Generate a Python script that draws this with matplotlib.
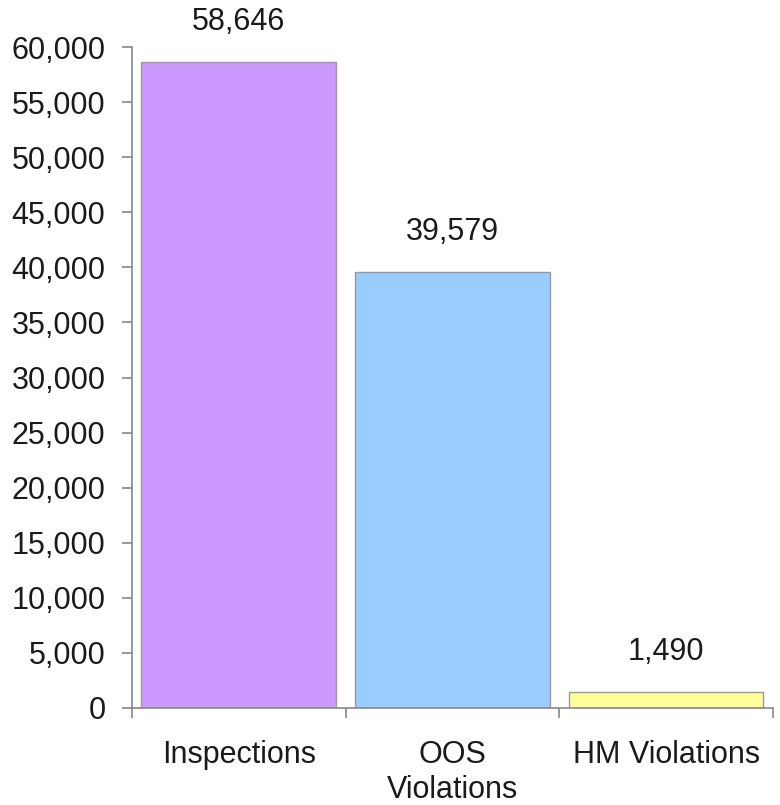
import matplotlib.pyplot as plt
from matplotlib.ticker import FuncFormatter

# data
categories = ['Inspections', 'OOS\nViolations', 'HM Violations']
values = [58646, 39579, 1490]
colors = ['#CC99FF', '#99CCFF', '#FFFF99']

plt.rcParams['font.family'] = ['Liberation Sans', 'DejaVu Sans']
FS = 22

fig = plt.figure(figsize=(7.8, 8.05), dpi=100)
ax = fig.add_axes([0.169, 0.1205, 0.822, 0.821])

x = range(len(categories))
bars = ax.bar(x, values, width=0.91, color=colors, edgecolor='#9a9a9a', linewidth=1.0)

for b, v in zip(bars, values):
    ax.annotate(f'{v:,}', (b.get_x() + b.get_width() / 2, v),
                xytext=(0, 18), textcoords='offset points',
                ha='center', va='bottom', fontsize=FS, color='#1a1a1a')

ax.set_xlim(-0.5, 2.5)
ax.set_ylim(0, 60000)
ax.set_yticks(range(0, 60001, 5000))
ax.yaxis.set_major_formatter(FuncFormatter(lambda v, p: f'{int(v):,}'))

# category ticks sit at the boundaries between bars
ax.set_xticks([-0.5, 0.5, 1.5, 2.5])
ax.set_xticklabels([])
ax.set_xticks(list(x), minor=True)
ax.set_xticklabels(categories, minor=True, fontsize=FS, color='#1a1a1a', linespacing=1.2)
ax.tick_params(axis='x', which='minor', length=0, pad=23)
ax.tick_params(axis='x', which='major', direction='out', length=7, color='#888888', width=1.2)
ax.tick_params(axis='y', direction='out', length=7, color='#888888', width=1.2,
               labelsize=FS, labelcolor='#1a1a1a', pad=12)

for side in ['top', 'right']:
    ax.spines[side].set_visible(False)
for side in ['left', 'bottom']:
    ax.spines[side].set_color('#888888')
    ax.spines[side].set_linewidth(1.2)

plt.savefig('out.png', dpi=100)
